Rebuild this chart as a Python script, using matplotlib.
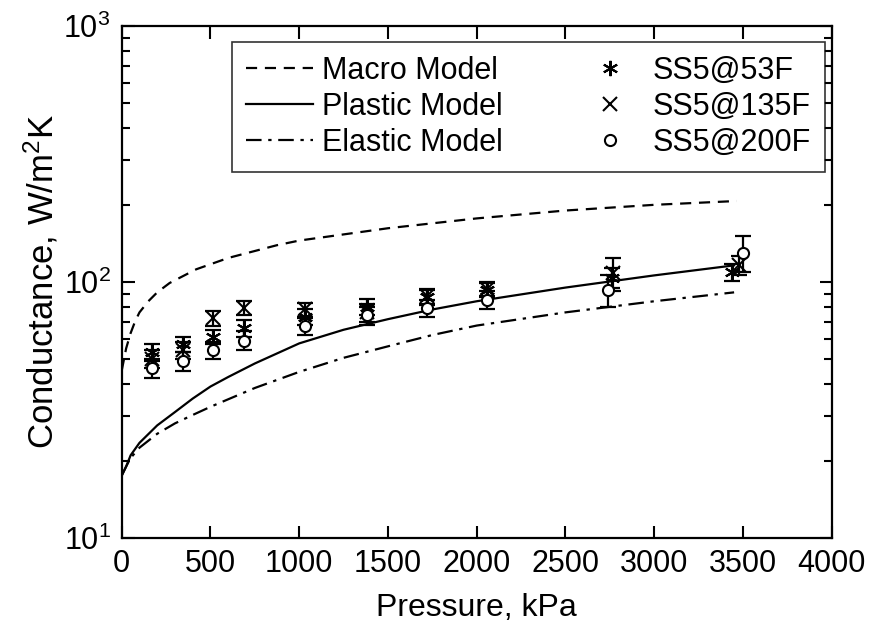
import matplotlib
matplotlib.use("Agg")
import matplotlib.pyplot as plt
from matplotlib.ticker import LogLocator, NullFormatter, FixedLocator

plt.rcParams['font.family'] = ['Liberation Sans', 'DejaVu Sans']
plt.rcParams['mathtext.fontset'] = 'custom'
plt.rcParams['mathtext.rm'] = 'Liberation Sans'
plt.rcParams['mathtext.it'] = 'Liberation Sans:italic'

# model curves (pressure kPa, conductance W/m2K)
macro_p = [0, 25, 50, 75, 100, 150, 200, 270, 420, 600, 873, 1000, 1500, 2000, 2500, 3000, 3465]
macro_g = [45, 55, 63, 70, 76, 84, 91, 99, 112, 124, 139, 145, 162, 177, 190, 200, 207]

plastic_p = [0, 25, 50, 100, 200, 300, 400, 500, 600, 750, 1000, 1250, 1500, 1750, 2000, 2500, 3000, 3450]
plastic_g = [17.5, 19, 21, 23.5, 27.5, 31, 35, 39, 42.5, 48, 57.5, 65, 71.5, 78, 84, 95, 106, 116]

elastic_p = [0, 25, 50, 100, 200, 300, 400, 500, 750, 1000, 1250, 1500, 1750, 2000, 2500, 3000, 3450]
elastic_g = [17.5, 19, 20.5, 22.5, 25.5, 28, 30.2, 32.5, 38.5, 44.5, 50.5, 56, 62, 67.5, 76, 84, 91]

# measured data
p53 = [170, 345, 517, 690, 1030, 1380, 1720, 2060, 2760, 3440]
g53 = [53, 57, 61, 66, 73, 80, 87, 93, 104, 109]
e53 = [4, 4, 4, 5, 5, 6, 6, 6, 9, 8]

p135 = [170, 345, 517, 690, 1030, 1380, 1720, 2060, 2770, 3480]
g135 = [50, 54, 72, 79, 78, 76, 88, 94, 108, 116]
e135 = [4, 4, 5, 5, 5, 6, 6, 6, 16, 10]

p200 = [170, 345, 517, 690, 1030, 1380, 1720, 2060, 2740, 3500]
g200 = [46, 49, 54, 59, 67, 74, 79, 85, 93, 130]
e200 = [4, 4, 4, 5, 5, 6, 6, 7, 13, 21]

fig = plt.figure(figsize=(8.82, 6.32), dpi=100)
ax = fig.add_axes([0.138, 0.149, 0.805, 0.810])

lw = 1.6
ax.plot(macro_p, macro_g, 'k', ls=(0, (5, 3.5)), lw=lw, label='Macro Model')
ax.plot(plastic_p, plastic_g, 'k-', lw=lw, label='Plastic Model')
ax.plot(elastic_p, elastic_g, 'k', ls=(0, (7, 3, 1.5, 3)), lw=lw, label='Elastic Model')

for p, g, e in [(p53, g53, e53), (p135, g135, e135), (p200, g200, e200)]:
    ax.errorbar(p, g, yerr=e, fmt='none', ecolor='k', elinewidth=1.6, capsize=6, capthick=1.6)

ax.plot(p53, g53, ls='none', marker=(6, 2, 0), ms=11, mec='k', mew=1.5, color='k', label='SS5@53F')
ax.plot(p135, g135, ls='none', marker='x', ms=10, mec='k', mew=1.5, label='SS5@135F')
ax.plot(p200, g200, ls='none', marker='o', ms=8, mec='k', mfc='white', mew=1.5, label='SS5@200F')

ax.set_yscale('log')
ax.set_xlim(0, 4000)
ax.set_ylim(10, 1000)
ax.xaxis.set_major_locator(FixedLocator(range(0, 4001, 500)))
ax.yaxis.set_minor_locator(LogLocator(base=10, subs=range(2, 10)))
ax.yaxis.set_minor_formatter(NullFormatter())
ax.set_yticks([10, 100, 1000])
ax.set_yticklabels(['$10^1$', '$10^2$', '$10^3$'])

ax.tick_params(which='both', direction='in', top=True, right=True, width=1.5,
               labelsize=22, pad=8)
ax.tick_params(which='major', length=9)
ax.tick_params(which='minor', length=6)
for s in ax.spines.values():
    s.set_linewidth(1.6)

ax.set_xlabel('Pressure, kPa', fontsize=23, labelpad=10)
ax.set_ylabel('Conductance, W/m$^2$K', fontsize=25, labelpad=2)

leg = ax.legend(ncol=2, loc='upper right', bbox_to_anchor=(0.99, 0.969), fontsize=22,
                frameon=True, fancybox=False, edgecolor='k', handlelength=2.2,
                handletextpad=0.3, columnspacing=2.4, labelspacing=0.2,
                borderaxespad=0, borderpad=0.45)
leg.get_frame().set_linewidth(1.2)

fig.savefig('out.png', dpi=100)
